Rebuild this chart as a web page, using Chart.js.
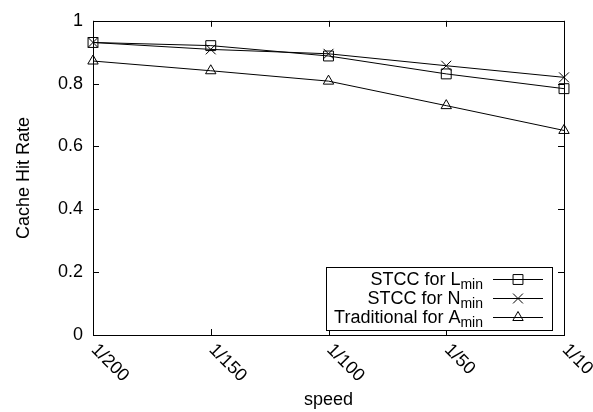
<!DOCTYPE html>
<html><head><meta charset="utf-8">
<script src="https://cdn.jsdelivr.net/npm/chart.js@4.4.1/dist/chart.umd.min.js"></script>
<style>html,body{margin:0;padding:0;background:#fff}canvas{display:block}</style>
</head><body>
<canvas id="c" width="593" height="412"></canvas>
<script>
const categories = ['1/200', '1/150', '1/100', '1/50', '1/10'];
const stccL = [0.931, 0.921, 0.888, 0.831, 0.784];
const stccN = [0.931, 0.909, 0.895, 0.857, 0.820];
const trad  = [0.872, 0.841, 0.808, 0.730, 0.651];
const yTicks = [0, 0.2, 0.4, 0.6, 0.8, 1];
const legendItems = [
  {main: 'STCC for L', sub: 'min', style: 'rect', r: 7},
  {main: 'STCC for N', sub: 'min', style: 'crossRot', r: 7},
  {main: 'Traditional for A', sub: 'min', style: 'triangle', r: 6}
];
const FONT = '"Liberation Sans", Arial, sans-serif';
const FS = 18;

function ds(label, data, style, r) {
  return {label, data, borderColor: '#000', backgroundColor: 'rgba(0,0,0,0)', borderWidth: 1,
    pointStyle: style, pointRadius: r, pointBorderWidth: 1, pointBorderColor: '#000',
    pointBackgroundColor: 'rgba(0,0,0,0)', tension: 0, clip: false};
}

const deco = {
  id: 'deco',
  afterDraw(chart) {
    const ctx = chart.ctx, a = chart.chartArea;
    const xs = chart.scales.x, ys = chart.scales.y;
    ctx.save();
    ctx.strokeStyle = '#000'; ctx.lineWidth = 1;
    ctx.strokeRect(Math.round(a.left) + 0.5, Math.round(a.top) + 0.5, Math.round(a.right - a.left), Math.round(a.bottom - a.top));
    const TL = 6;
    ctx.beginPath();
    yTicks.forEach(v => {
      const y = Math.round(ys.getPixelForValue(v)) + 0.5;
      ctx.moveTo(a.left, y); ctx.lineTo(a.left + TL, y);
      ctx.moveTo(a.right, y); ctx.lineTo(a.right - TL, y);
    });
    categories.forEach((c, i) => {
      const x = Math.round(xs.getPixelForValue(i)) + 0.5;
      ctx.moveTo(x, a.bottom); ctx.lineTo(x, a.bottom - TL);
      ctx.moveTo(x, a.top); ctx.lineTo(x, a.top + TL);
    });
    ctx.stroke();
    ctx.fillStyle = '#000';
    ctx.font = FS + 'px ' + FONT;
    ctx.textAlign = 'left'; ctx.textBaseline = 'middle';
    categories.forEach((c, i) => {
      const x = xs.getPixelForValue(i);
      ctx.save();
      ctx.translate(x + 1, a.bottom + 12);
      ctx.rotate(Math.PI / 4);
      ctx.fillText(c, 0, 0);
      ctx.restore();
    });
    const bx = 326, by = 267, bw = 226, bh = 63;
    ctx.fillStyle = '#fff';
    ctx.fillRect(bx, by, bw, bh);
    ctx.strokeRect(bx + 0.5, by + 0.5, bw, bh);
    const textRight = 483, l0 = 493, l1 = 543;
    const rows = [279, 298, 317];
    legendItems.forEach((it, k) => {
      const y = rows[k];
      ctx.fillStyle = '#000';
      ctx.textBaseline = 'alphabetic';
      ctx.textAlign = 'right';
      ctx.font = Math.round(FS * 0.75) + 'px ' + FONT;
      const subW = ctx.measureText(it.sub).width;
      ctx.fillText(it.sub, textRight, y + 10);
      ctx.font = FS + 'px ' + FONT;
      ctx.fillText(it.main, textRight - subW, y + 6);
      ctx.beginPath();
      ctx.moveTo(l0, Math.round(y) + 0.5); ctx.lineTo(l1, Math.round(y) + 0.5);
      ctx.stroke();
      ctx.fillStyle = 'rgba(0,0,0,0)';
      Chart.helpers.drawPoint(ctx, {pointStyle: it.style, radius: it.r, rotation: 0, borderWidth: 1}, (l0 + l1) / 2, Math.round(y) + 0.5);
    });
    ctx.restore();
  }
};

new Chart(document.getElementById('c'), {
  type: 'line',
  data: {
    labels: categories,
    datasets: [
      ds('STCC for Lmin', stccL, 'rect', 7),
      ds('STCC for Nmin', stccN, 'crossRot', 7),
      ds('Traditional for Amin', trad, 'triangle', 6)
    ]
  },
  options: {
    responsive: false, animation: false, devicePixelRatio: 1,
    layout: {padding: {top: 14, right: 29, bottom: 0, left: 0}},
    plugins: {legend: {display: false}, tooltip: {enabled: false}},
    scales: {
      x: {
        type: 'category', offset: false,
        grid: {display: false, drawTicks: false}, border: {display: false},
        ticks: {display: false},
        title: {display: true, text: 'speed', color: '#000', font: {family: FONT, size: FS}, padding: {top: 0, bottom: 1}},
        afterFit(s) { s.height = 77; }
      },
      y: {
        min: 0, max: 1,
        grid: {display: false, drawTicks: false}, border: {display: false},
        ticks: {stepSize: 0.2, padding: 10, color: '#000', font: {family: FONT, size: FS},
          callback: v => String(Math.round(v * 10) / 10)},
        title: {display: true, text: 'Cache Hit Rate', color: '#000', font: {family: FONT, size: FS}, padding: {top: 13, bottom: 0}},
        afterFit(s) { s.width = 93; }
      }
    }
  },
  plugins: [deco]
});
</script>
</body></html>
